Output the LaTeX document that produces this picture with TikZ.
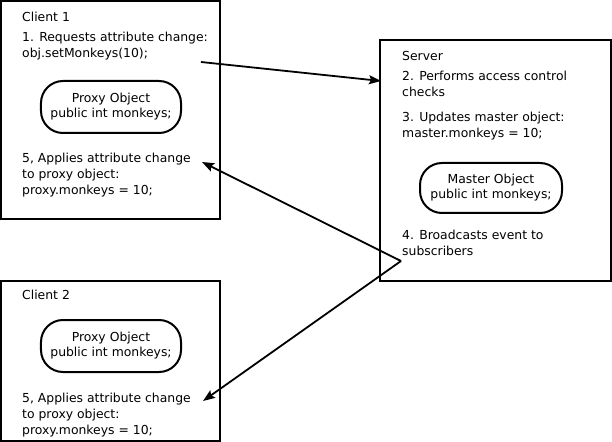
\documentclass[tikz,border=0pt]{standalone}
\usepackage{fontspec}
\setmainfont{DejaVu Sans}
\usetikzlibrary{arrows.meta}
\begin{document}
\begin{tikzpicture}[x=1bp,y=-1bp,
  frame/.style={draw,line width=2bp,inner sep=0pt,outer sep=0pt},
  obj/.style={draw,line width=2bp,rounded corners=22bp,inner sep=0pt,outer sep=0pt,align=center,
    font=\fontsize{12.4bp}{15bp}\selectfont},
  txt/.style={anchor=base west,inner sep=0pt,font=\fontsize{12.4bp}{15bp}\selectfont},
  arr/.style={line width=1.8bp,-{Stealth[length=12bp,width=9bp,inset=2bp]}}]
\useasboundingbox (0,0) rectangle (612,442);
% frames
\node[frame,minimum width=219bp,minimum height=218bp] (c1) at (110.5,110) {};
\node[frame,minimum width=231bp,minimum height=241bp] (srv) at (495.5,160.5) {};
\node[frame,minimum width=219bp,minimum height=160bp] (c2) at (110.5,361) {};
% objects
\node[obj,minimum width=140bp,minimum height=52bp] (p1) at (111,107) {Proxy Object\\public int monkeys;};
\node[obj,minimum width=142bp,minimum height=50bp] (mo) at (491,188) {Master Object\\public int monkeys;};
\node[obj,minimum width=140bp,minimum height=52bp] (p2) at (111,346) {Proxy Object\\public int monkeys;};
% client 1 text
\node[txt] (c1t) at (22,22) {Client 1};
\node[txt] (c1a) at (22,42) {1. Requests attribute change:};
\node[txt] (c1b) at (22,58) {obj.setMonkeys(10);};
\node[txt] (c1c) at (22,163) {5, Applies attribute change};
\node[txt] (c1d) at (22,179) {to proxy object:};
\node[txt] (c1e) at (22,195) {proxy.monkeys = 10;};
% server text
\node[txt] (st) at (402,61) {Server};
\node[txt] (sa) at (402,81) {2. Performs access control};
\node[txt] (sb) at (402,97) {checks};
\node[txt] (sc) at (402,122) {3. Updates master object:};
\node[txt] (sd) at (402,138) {master.monkeys = 10;};
\node[txt] (se) at (402,240) {4. Broadcasts event to};
\node[txt] (sf) at (402,256) {subscribers};
% client 2 text
\node[txt] (c2t) at (22,300) {Client 2};
\node[txt] (c2c) at (22,402) {5, Applies attribute change};
\node[txt] (c2d) at (22,418) {to proxy object:};
\node[txt] (c2e) at (22,434) {proxy.monkeys = 10;};
% connector ends
\coordinate (a1s) at (201,62);
\coordinate (a1e) at (381,81);
\coordinate (bc) at (401,261);
\coordinate (a2e) at (202,162);
\coordinate (a3e) at (203,401);
\draw[arr] (a1s) -- (a1e);
\draw[arr] (bc) -- (a2e);
\draw[arr] (bc) -- (a3e);
\end{tikzpicture}
\end{document}
